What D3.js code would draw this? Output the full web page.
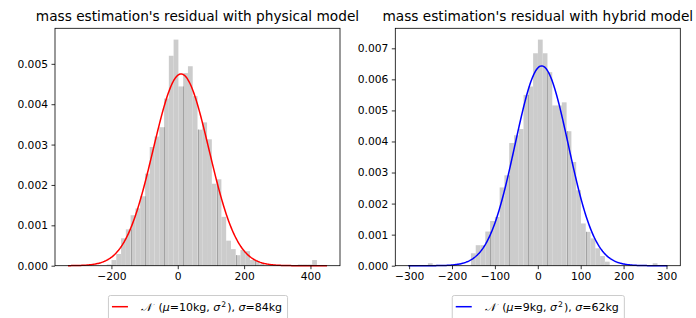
<!DOCTYPE html>
<html>
<head>
<meta charset="utf-8">
<script src="https://cdn.jsdelivr.net/npm/d3@7"></script>
<style>
  body { margin: 0; background: #fff; }
  svg { font-family: "DejaVu Sans", sans-serif; }
</style>
</head>
<body>
<script>
// ---- physical model residuals (density histogram, 44 bins) ----
var binStartPhys = -214.1, binWidthPhys = 14.4;
var densPhys = [0.00003, 0.00014, 0.00029, 0.00068, 0.0009, 0.00125, 0.00142, 0.00172, 0.00228, 0.00294,
                0.0032, 0.00343, 0.00414, 0.0052, 0.0056, 0.00444, 0.00477, 0.00494, 0.0042, 0.00337,
                0.00355, 0.00313, 0.00203, 0.00214, 0.00121, 0.00062, 0.00041, 0.00026, 0.00039, 0.00036,
                0.00014, 0.00012, 0.00005, 0, 0, 0, 0, 0, 0, 0,
                0.00003, 0.00003, 0.00003, 0.00014];
var edgeIdxPhys = [5, 8, 12, 16, 19, 23, 27, 31];
var muPhys = 10, sigmaPhys = 84;
var curveRangePhys = [-331, 450];
var xTicksPhys = [-200, 0, 200, 400];
var yTicksPhys = [0, 0.001, 0.002, 0.003, 0.004, 0.005];

// ---- hybrid model residuals (density histogram, 48 bins) ----
var binStartHyb = -256.2, binWidthHyb = 11.15;
var densHyb = [0.00008, 0.00003, 0, 0, 0, 0, 0, 0, 0, 0.0004,
               0.00066, 0.00066, 0.0011, 0.00144, 0.00157, 0.00252, 0.00291, 0.00395, 0.0042, 0.0044,
               0.0055, 0.00577, 0.00684, 0.00728, 0.00684, 0.00623, 0.00516, 0.00516, 0.00526, 0.00433,
               0.00334, 0.00243, 0.00136, 0.00109, 0.00088, 0.00056, 0.00031, 0.00013, 0, 0,
               0, 0, 0, 0, 0, 0, 0, 0.00008];
var edgeIdxHyb = [13, 17, 21, 25, 29, 33];
var muHyb = 9, sigmaHyb = 62;
var curveRangeHyb = [-302, 302];
var xTicksHyb = [-300, -200, -100, 0, 100, 200, 300];
var yTicksHyb = [0, 0.001, 0.002, 0.003, 0.004, 0.005, 0.006, 0.007];

var width = 696, height = 318;
var tickFont = "10.7px", titleFont = "13.7px", legendFont = "11px";

var svg = d3.select("body").append("svg")
    .attr("width", width)
    .attr("height", height);

function normalPdf(x, mu, s) {
    return Math.exp(-0.5 * ((x - mu) / s) * ((x - mu) / s)) / (s * Math.sqrt(2 * Math.PI));
}

function panel(p) {
    var pad = (p.range[1] - p.range[0]) * 0.05;
    var x = d3.scaleLinear()
        .domain([p.range[0] - pad, p.range[1] + pad])
        .range([p.left, p.right]);
    var y = d3.scaleLinear()
        .domain([0, d3.max(p.dens) * 1.05])
        .range([p.bottom, p.top]);

    var g = svg.append("g");

    // bars
    g.selectAll("rect.bar")
        .data(p.dens)
        .enter().append("rect")
        .attr("class", "bar")
        .attr("x", function(d, i) { return x(p.binStart + i * p.binWidth); })
        .attr("width", function(d, i) { return x(p.binStart + (i + 1) * p.binWidth) - x(p.binStart + i * p.binWidth); })
        .attr("y", function(d) { return y(d); })
        .attr("height", function(d) { return p.bottom - y(d); })
        .attr("fill", "#cccccc");

    // visible bar edges
    g.selectAll("line.edge")
        .data(p.edges)
        .enter().append("line")
        .attr("class", "edge")
        .attr("x1", function(k) { return Math.round(x(p.binStart + k * p.binWidth)) + 0.5; })
        .attr("x2", function(k) { return Math.round(x(p.binStart + k * p.binWidth)) + 0.5; })
        .attr("y1", p.bottom)
        .attr("y2", function(k) { return y(Math.min(p.dens[k - 1], p.dens[k])); })
        .attr("stroke", "#a3a3a3")
        .attr("stroke-width", 1);

    // fitted normal curve
    var xs = d3.range(0, 301).map(function(i) {
        return p.range[0] + (p.range[1] - p.range[0]) * i / 300;
    });
    var line = d3.line()
        .x(function(v) { return x(v); })
        .y(function(v) { return y(normalPdf(v, p.mu, p.sigma)); });
    g.append("path")
        .datum(xs)
        .attr("d", line)
        .attr("fill", "none")
        .attr("stroke", p.color)
        .attr("stroke-width", 1.5);

    // axes
    var fmtY = d3.format(".3f");
    var xAxis = d3.axisBottom(x).tickValues(p.xTicks).tickSize(3.5).tickPadding(3.5);
    var yAxis = d3.axisLeft(y).tickValues(p.yTicks).tickFormat(fmtY).tickSize(3.5).tickPadding(3.5);

    var gx = g.append("g").attr("transform", "translate(0," + p.bottom + ")").call(xAxis);
    var gy = g.append("g").attr("transform", "translate(" + p.left + ",0)").call(yAxis);
    [gx, gy].forEach(function(a) {
        a.select(".domain").remove();
        a.selectAll("line").attr("stroke", "#000").attr("stroke-width", 0.8);
        a.selectAll("text").attr("fill", "#000").style("font-size", tickFont)
            .style("font-family", "DejaVu Sans");
    });

    // frame
    g.append("rect")
        .attr("x", p.left).attr("y", p.top)
        .attr("width", p.right - p.left).attr("height", p.bottom - p.top)
        .attr("fill", "none").attr("stroke", "#000").attr("stroke-width", 0.8);

    // title
    g.append("text")
        .attr("x", (p.left + p.right) / 2)
        .attr("y", 20.5)
        .attr("text-anchor", "middle")
        .style("font-size", titleFont)
        .text(p.title);

    // legend
    var cx = (p.left + p.right) / 2;
    var lg = g.append("g");
    var box = lg.append("rect");
    var txt = lg.append("text").attr("y", 310.5).style("font-size", legendFont);
    txt.append("tspan").style("font-family", "DejaVu Serif").style("font-style", "italic").text("\uD835\uDCA9");
    txt.append("tspan").attr("dx", 3).text(" (");
    txt.append("tspan").style("font-style", "italic").text("\u03BC");
    txt.append("tspan").text("=" + p.mu + "kg, ");
    txt.append("tspan").style("font-style", "italic").text("\u03C3");
    txt.append("tspan").attr("dy", -4).attr("dx", 1).style("font-size", "7.7px").text("2");
    txt.append("tspan").attr("dy", 4).attr("dx", 1).text("), ");
    txt.append("tspan").style("font-style", "italic").text("\u03C3");
    txt.append("tspan").text("=" + p.sigma + "kg");
    var tw = txt.node().getBBox().width;
    var bw = 33 + tw + 5;
    var bx = cx - bw / 2;
    txt.attr("x", bx + 33);
    box.attr("x", bx + 0.5).attr("y", 295.5).attr("width", bw).attr("height", 30)
        .attr("rx", 2).attr("fill", "#fff").attr("fill-opacity", 0.8)
        .attr("stroke", "#cccccc").attr("stroke-width", 1);
    lg.append("line")
        .attr("x1", bx + 4).attr("x2", bx + 20)
        .attr("y1", 306.7).attr("y2", 306.7)
        .attr("stroke", p.color).attr("stroke-width", 1.5);
}

panel({
    left: 55, right: 340, top: 28.3, bottom: 265.7,
    binStart: binStartPhys, binWidth: binWidthPhys, dens: densPhys, edges: edgeIdxPhys,
    mu: muPhys, sigma: sigmaPhys, range: curveRangePhys,
    xTicks: xTicksPhys, yTicks: yTicksPhys, color: "#ff0000",
    title: "mass estimation's residual with physical model"
});

panel({
    left: 395.3, right: 680.3, top: 28.3, bottom: 265.7,
    binStart: binStartHyb, binWidth: binWidthHyb, dens: densHyb, edges: edgeIdxHyb,
    mu: muHyb, sigma: sigmaHyb, range: curveRangeHyb,
    xTicks: xTicksHyb, yTicks: yTicksHyb, color: "#0000ff",
    title: "mass estimation's residual with hybrid model"
});
</script>
</body>
</html>
